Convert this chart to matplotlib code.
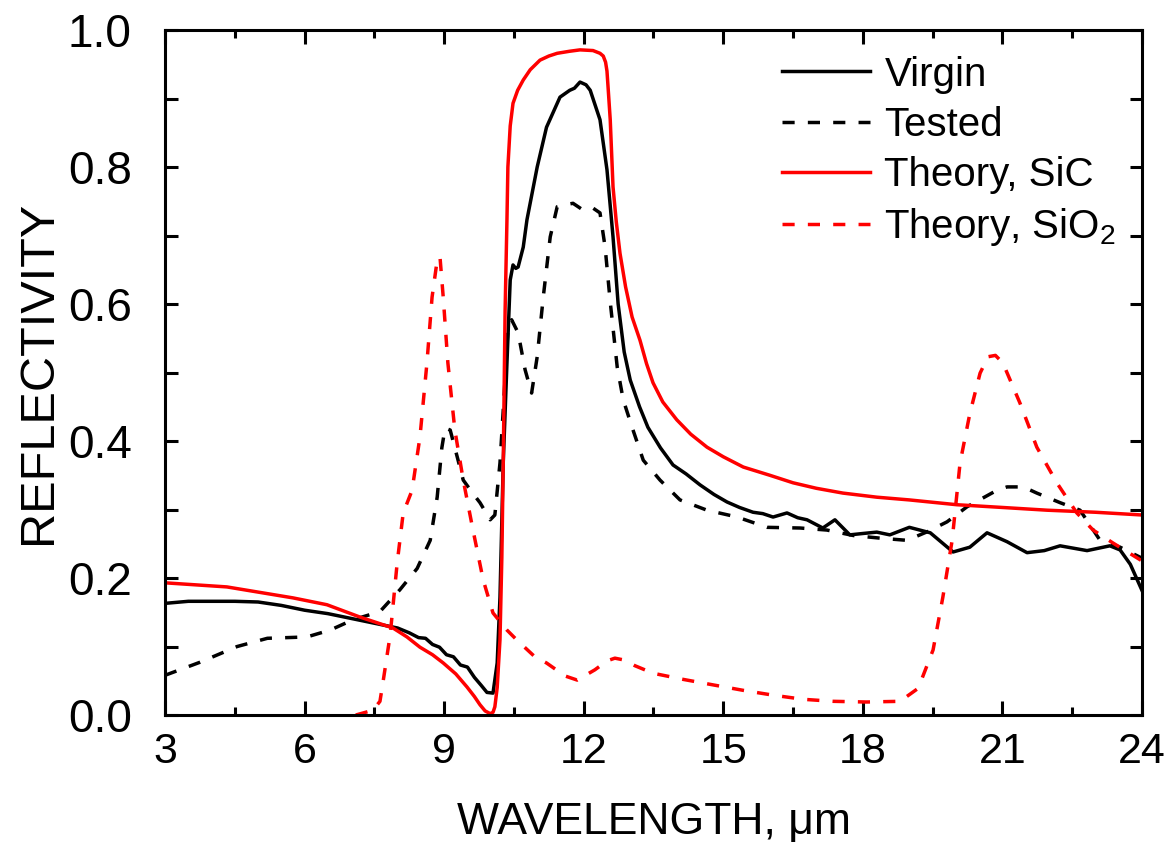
import matplotlib
matplotlib.use("Agg")
import matplotlib.pyplot as plt
from matplotlib.ticker import MultipleLocator, FormatStrFormatter

plt.rcParams['font.family'] = ['Liberation Sans', 'DejaVu Sans']
plt.rcParams['mathtext.fontset'] = 'custom'
plt.rcParams['mathtext.rm'] = 'Liberation Sans'
plt.rcParams['mathtext.default'] = 'regular'

virgin_x = [3, 3.5, 4, 4.5, 5, 5.5, 6, 6.5, 7, 7.5, 8, 8.25, 8.45, 8.6, 8.75, 8.9,
            9.05, 9.2, 9.35, 9.5, 9.65, 9.8, 9.92, 10.05, 10.14, 10.2, 10.27, 10.35,
            10.42, 10.48, 10.54, 10.59, 10.7, 10.78, 11.0, 11.2, 11.49, 11.7, 11.8,
            11.92, 12.05, 12.14, 12.35, 12.5, 12.63, 12.74, 12.87, 13.0, 13.2, 13.38,
            13.65, 13.92, 14.2, 14.5, 14.8, 15.08, 15.35, 15.64, 15.85, 16.07, 16.37,
            16.6, 16.8, 17.14, 17.4, 17.72, 18.0, 18.3, 18.58, 19.0, 19.45, 19.94,
            20.3, 20.67, 21.1, 21.53, 21.9, 22.24, 22.82, 23.31, 23.53, 23.75, 24.0]
virgin_y = [0.163, 0.166, 0.166, 0.166, 0.165, 0.160, 0.153, 0.148, 0.141, 0.134, 0.127,
            0.120, 0.113, 0.112, 0.103, 0.099, 0.088, 0.085, 0.073, 0.070, 0.055, 0.043,
            0.033, 0.032, 0.076, 0.172, 0.368, 0.514, 0.635, 0.657, 0.652, 0.654, 0.683,
            0.723, 0.800, 0.858, 0.902, 0.912, 0.915, 0.924, 0.920, 0.912, 0.869, 0.796,
            0.698, 0.600, 0.530, 0.489, 0.450, 0.420, 0.390, 0.365, 0.352, 0.336, 0.322,
            0.311, 0.303, 0.296, 0.294, 0.289, 0.295, 0.288, 0.285, 0.273, 0.285, 0.263,
            0.265, 0.267, 0.263, 0.274, 0.266, 0.238, 0.245, 0.266, 0.253, 0.237, 0.240,
            0.247, 0.240, 0.247, 0.241, 0.220, 0.182]

tested_x = [3, 3.75, 4.55, 5.2, 6.05, 6.55, 7.04, 7.62, 8.05, 8.42, 8.7, 8.85, 8.95,
            9.02, 9.13, 9.28, 9.41, 9.6, 9.77, 9.99, 10.09, 10.2, 10.27, 10.37, 10.45,
            10.59, 10.74, 10.88, 11.0, 11.13, 11.28, 11.43, 11.6, 11.77, 11.99, 12.2,
            12.35, 12.46, 12.57, 12.72, 12.85, 13.04, 13.28, 13.64, 14.07, 14.65, 15.3,
            15.94, 16.65, 17.23, 17.8, 18.4, 18.95, 19.4, 19.81, 20.24, 20.88, 21.1,
            21.45, 21.74, 22.24, 22.67, 23.1, 23.53, 24.0]
tested_y = [0.058, 0.077, 0.100, 0.112, 0.114, 0.124, 0.139, 0.151, 0.183, 0.214, 0.255,
            0.318, 0.390, 0.419, 0.416, 0.377, 0.343, 0.325, 0.310, 0.285, 0.292, 0.368,
            0.445, 0.562, 0.577, 0.558, 0.504, 0.470, 0.523, 0.610, 0.698, 0.742, 0.745,
            0.747, 0.737, 0.740, 0.733, 0.683, 0.603, 0.508, 0.460, 0.420, 0.372, 0.343,
            0.314, 0.299, 0.289, 0.274, 0.273, 0.270, 0.262, 0.258, 0.255, 0.268, 0.282,
            0.304, 0.328, 0.333, 0.333, 0.324, 0.310, 0.299, 0.255, 0.245, 0.229]

# calculated spectra
sic_x = [3, 4.33, 5.75, 6.48, 7.19, 7.9, 8.2, 8.48, 8.75, 8.98, 9.25, 9.49, 9.65, 9.77,
         9.88, 9.99, 10.05, 10.09, 10.14, 10.2, 10.24, 10.27, 10.31, 10.35, 10.37, 10.42,
         10.48, 10.58, 10.7, 10.85, 11.06, 11.25, 11.43, 11.7, 11.92, 12.2, 12.35, 12.42,
         12.47, 12.5, 12.53, 12.57, 12.6, 12.63, 12.7, 12.78, 12.9, 13.04, 13.21, 13.35,
         13.49, 13.7, 14.0, 14.3, 14.65, 15.0, 15.43, 16.0, 16.5, 17.0, 17.57, 18.3,
         19.0, 20.02, 21.0, 21.96, 23.0, 24.0]
sic_y = [0.193, 0.187, 0.171, 0.161, 0.143, 0.127, 0.114, 0.099, 0.088, 0.076, 0.060,
         0.041, 0.027, 0.015, 0.006, 0.002, 0.004, 0.012, 0.040, 0.110, 0.230, 0.368,
         0.590, 0.723, 0.800, 0.860, 0.893, 0.912, 0.927, 0.942, 0.956, 0.962, 0.966,
         0.969, 0.971, 0.970, 0.966, 0.962, 0.953, 0.940, 0.910, 0.869, 0.820, 0.771,
         0.720, 0.674, 0.625, 0.581, 0.547, 0.513, 0.485, 0.457, 0.431, 0.410, 0.391,
         0.377, 0.362, 0.350, 0.339, 0.331, 0.324, 0.318, 0.314, 0.307, 0.303, 0.299,
         0.296, 0.292]

sio2_x = [7.1, 7.47, 7.62, 7.69, 7.84, 7.99, 8.12, 8.31, 8.48, 8.63, 8.74, 8.85, 8.91,
          8.98, 9.08, 9.23, 9.41, 9.62, 9.84, 10.05, 10.35, 10.57, 10.95, 11.2, 11.6,
          11.86, 12.24, 12.5, 12.67, 12.89, 13.1, 13.49, 14.14, 14.78, 15.43, 16.07,
          16.71, 17.36, 18.08, 18.8, 19.19, 19.51, 19.72, 19.92, 20.09, 20.3, 20.52,
          20.69, 20.85, 21.01, 21.38, 21.74, 22.17, 22.6, 22.95, 23.38, 24.0]
sio2_y = [0.0, 0.007, 0.02, 0.05, 0.117, 0.222, 0.295, 0.328, 0.406, 0.514, 0.610,
          0.664, 0.669, 0.610, 0.514, 0.416, 0.343, 0.270, 0.197, 0.149, 0.124, 0.109,
          0.085, 0.076, 0.057, 0.051, 0.066, 0.079, 0.083, 0.080, 0.072, 0.061, 0.052,
          0.044, 0.036, 0.029, 0.023, 0.020, 0.019, 0.020, 0.039, 0.095, 0.172, 0.255,
          0.368, 0.440, 0.499, 0.523, 0.525, 0.514, 0.455, 0.391, 0.339, 0.295, 0.270,
          0.251, 0.225]

fig = plt.figure(figsize=(11.68, 8.5), dpi=100)
ax = fig.add_axes([0.1413, 0.1588, 0.8364, 0.8059])

lw = 2.5
dash = (3.5, 3.8)
ax.plot(virgin_x, virgin_y, color="k", lw=lw, label="Virgin")
ax.plot(tested_x, tested_y, color="k", lw=lw, dashes=dash, label="Tested")
ax.plot(sic_x, sic_y, color="#ff0000", lw=lw, label="Theory, SiC")
ax.plot(sio2_x, sio2_y, color="#ff0000", lw=lw, dashes=dash, label="Theory, SiO$_2$")

ax.set_xlim(3, 24)
ax.set_ylim(0, 1)
ax.xaxis.set_major_locator(MultipleLocator(3))
ax.xaxis.set_minor_locator(MultipleLocator(1.5))
ax.yaxis.set_major_locator(MultipleLocator(0.2))
ax.yaxis.set_minor_locator(MultipleLocator(0.1))
ax.yaxis.set_major_formatter(FormatStrFormatter("%.1f"))

for s in ax.spines.values():
    s.set_linewidth(2.2)
ax.tick_params(which="both", direction="in", top=True, right=True, width=2.2)
ax.tick_params(axis="x", which="major", length=10, labelsize=31, pad=12)
ax.tick_params(axis="x", which="minor", length=6)
ax.tick_params(axis="y", which="both", length=9)
ax.tick_params(axis="y", which="major", labelsize=33, pad=24)

ax.set_xlabel("WAVELENGTH, μm", fontsize=32, labelpad=22)
ax.set_ylabel("REFLECTIVITY", fontsize=35, labelpad=5)

ax.legend(loc="upper right", frameon=False, fontsize=29, handlelength=2.2,
          handletextpad=0.35, labelspacing=0.3, borderaxespad=0.2,
          bbox_to_anchor=(0.998, 0.998))

fig.savefig("out.png", dpi=100)
